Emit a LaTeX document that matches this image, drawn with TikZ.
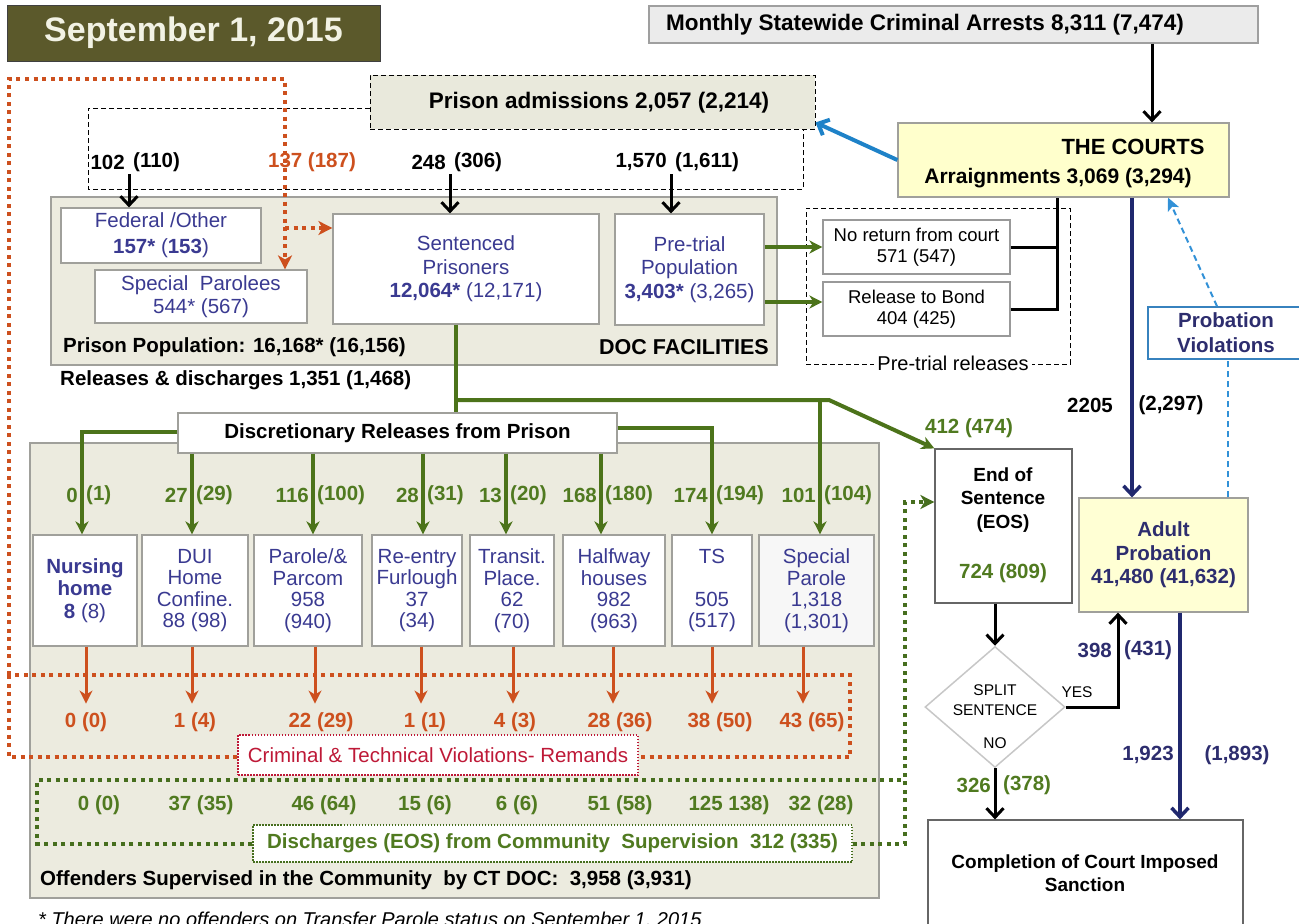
\documentclass[tikz,border=0pt]{standalone}
\usepackage{fontspec}
\setmainfont{Liberation Sans}
\usetikzlibrary{arrows.meta,shapes.geometric}
\definecolor{titlebg}{RGB}{91,89,43}
\definecolor{titlefg}{RGB}{242,242,228}
\definecolor{panel}{RGB}{236,235,223}
\definecolor{panelbd}{RGB}{160,160,155}
\definecolor{admfill}{RGB}{233,233,220}
\definecolor{arrfill}{RGB}{235,235,235}
\definecolor{courtfill}{RGB}{255,255,204}
\definecolor{probfill}{RGB}{255,255,212}
\definecolor{tblue}{RGB}{58,58,145}
\definecolor{tgreen}{RGB}{80,122,32}
\definecolor{lgreen}{RGB}{76,115,26}
\definecolor{dgreen}{RGB}{70,110,30}
\definecolor{torange}{RGB}{205,80,30}
\definecolor{crimson}{RGB}{190,25,55}
\definecolor{navyl}{RGB}{32,40,110}
\definecolor{navyt}{RGB}{45,45,110}
\definecolor{skyb}{RGB}{30,130,200}
\definecolor{dashb}{RGB}{50,145,215}
\definecolor{pvbd}{RGB}{55,130,190}
\newcommand\fsz[2]{\fontsize{#1pt}{#2pt}\selectfont}
\newcommand\splitlbl[6]{%
  \node[#6,anchor=east] (#1l) at (#2-4,#3) {#4};
  \node[#6,anchor=west] (#1r) at (#2+4,#3) {#5};}
\begin{document}
\begin{tikzpicture}[x=1pt,y=-1pt,
  >={Stealth[length=13pt,width=13pt,inset=4pt]},
  every node/.style={inner sep=0pt, align=center, font=\fsz{20.5}{23}\bfseries},
  box/.style={draw=panelbd, line width=1.2pt, fill=white, rectangle},
  panelbox/.style={draw=panelbd, line width=1.5pt, fill=panel, rectangle},
  framed/.style={draw=black, line width=1pt, dash pattern=on 5pt off 3pt},
  lbl/.style={text=tblue, font=\fsz{20.5}{21.5}\mdseries},
  vtip/.style={-{Straight Barb[length=9pt,width=17pt]}},
  blk/.style={line width=3pt, black, vtip},
  grn/.style={line width=4pt, lgreen},
  ora/.style={line width=3pt, torange, ->},
  odot/.style={torange, line width=4pt, dash pattern=on 4pt off 4.5pt},
  gdot/.style={dgreen, line width=4pt, dash pattern=on 4pt off 4.5pt},
  thindash/.style={black, line width=1pt, dash pattern=on 5pt off 3pt},
  navyln/.style={navyl, line width=3.5pt},
  gnum/.style={text=tgreen},
  onum/.style={text=torange},
  nnum/.style={text=navyt}]
\useasboundingbox (0,0) rectangle (1299,924);

% ---------- panels
\node[panelbox, minimum width=726pt, minimum height=168pt] (doc) at (414,281) {};
\node[panelbox, minimum width=849pt, minimum height=455pt] (com) at (454.5,670.5) {};

% ---------- title and top boxes
\node[fill=titlebg, draw=black!75, line width=1pt, minimum width=373pt, minimum height=56pt,
      text=titlefg, font=\fsz{34}{38}\bfseries] (title) at (193.5,33) {September 1, 2015};
\node[fill=arrfill, draw=gray!75, line width=1.2pt, minimum width=609pt, minimum height=37pt] (arr) at (953.5,24.5) {};
\node[font=\fsz{22.5}{25}\bfseries] (arrt) at (925,25) {Monthly Statewide Criminal Arrests 8,311 (7,474)};

\draw[thindash] (370,108) -- (88,108) -- (88,189) -- (803,189) -- (803,129);
\node[framed, fill=admfill, minimum width=445pt, minimum height=54pt] (pa) at (592.5,102) {};
\node[font=\fsz{22.5}{25}\bfseries] (pat) at (599,103) {Prison admissions 2,057 (2,214)};

\node[fill=courtfill, draw=panelbd, line width=1.2pt, minimum width=331pt, minimum height=74pt] (courts) at (1063.5,160) {};
\node[font=\fsz{22}{25}\bfseries] (courtst) at (1133,147) {THE COURTS};
\node[font=\fsz{21}{24}\bfseries] (arrg) at (1058,178) {Arraignments 3,069 (3,294)};

% ---------- DOC facilities
\node[box, lbl, font=\fsz{20.5}{26}\mdseries, minimum width=200pt, minimum height=55pt] (fed) at (161,235.5) {Federal /Other\\\textbf{157*} (\textbf{153})};
\node[box, lbl, font=\fsz{20.5}{23}\mdseries, minimum width=212pt, minimum height=53pt] (spar) at (201,296.5) {Special\ \ Parolees\\544* (567)};
\node[box, lbl, font=\fsz{20.5}{23.5}\mdseries, minimum width=266pt, minimum height=110pt] (sent) at (466,269) {Sentenced\\Prisoners\\\textbf{12,064*} (12,171)};
\node[box, lbl, font=\fsz{20.5}{23.5}\mdseries, minimum width=149pt, minimum height=111pt] (pt) at (689.5,269.5) {Pre-trial\\Population\\\textbf{3,403*} (3,265)};
\node[anchor=west] (ppop) at (63,347) {Prison Population: 16,168* (16,156)};
\node[anchor=east, font=\fsz{21.5}{24}\bfseries] (docf) at (769,347) {DOC FACILITIES};
\node[anchor=west] (rel) at (60,380) {Releases \& discharges 1,351 (1,468)};

% ---------- pre-trial releases
\node[framed, minimum width=264pt, minimum height=156pt] (prf) at (938,286) {};
\node[fill=white, inner xsep=3pt, font=\fsz{20}{22}\mdseries] (prl) at (953,363) {Pre-trial releases};
\node[box, draw=gray!80, font=\fsz{18.5}{21}\mdseries, minimum width=187pt, minimum height=54pt] (nr) at (916.5,247) {No return from court\\571 (547)};
\node[box, draw=gray!80, font=\fsz{18.5}{21}\mdseries, minimum width=187pt, minimum height=54pt] (rb) at (916.5,309) {Release to Bond\\404 (425)};

% ---------- right column
\node[draw=pvbd, line width=1.5pt, fill=white, minimum width=156pt, minimum height=52pt,
      text=navyt, font=\fsz{20.5}{25}\bfseries] (pv) at (1226,333) {Probation\\Violations};
\node[fill=probfill, draw=panelbd, line width=1.2pt, minimum width=169pt, minimum height=114pt,
      text=navyt, font=\fsz{20.5}{23.5}\bfseries] (ap) at (1163.5,555) {Adult\\Probation\\41,480 (41,632)};
\node[box, draw=black!60, minimum width=137pt, minimum height=154pt] (eos) at (1003.5,526) {};
\node[font=\fsz{19}{23.5}\bfseries] (eost) at (1003,500) {End of\\Sentence\\(EOS)};
\node[gnum] (eosn) at (1003,573) {724 (809)};
\node[diamond, draw=black!22, line width=1.5pt, fill=white, minimum width=140pt, minimum height=121pt] (dm) at (995,707) {};
\node[font=\fsz{15.5}{18}\mdseries] (dm1) at (995,690) {SPLIT};
\node[font=\fsz{15.5}{18}\mdseries] (dm2) at (995,710) {SENTENCE};
\node[font=\fsz{15.5}{18}\mdseries] (dm3) at (995,743) {NO};
\node[font=\fsz{15.5}{18}\mdseries] (yes) at (1077,692) {YES};
\node[box, draw=black!60, minimum width=315pt, minimum height=115pt] (comp) at (1085.5,877.5) {};
\node[font=\fsz{19}{23}\bfseries] (compt) at (1085,873) {Completion of Court Imposed\\Sanction};

% ---------- community
\node[box, minimum width=439pt, minimum height=40pt] (disc) at (397.5,433) {Discretionary Releases from Prison};
\node[box, lbl, font=\fsz{20.5}{22.5}\bfseries, minimum width=104pt, minimum height=111pt] (nh) at (85,590.5) {Nursing\\home\\8 {\mdseries(8)}};
\node[box, lbl, minimum width=106pt, minimum height=111pt] (dui) at (195,590.5) {DUI\\Home\\Confine.\\88 (98)};
\node[box, lbl, minimum width=108pt, minimum height=111pt] (par) at (308,590.5) {Parole/\&\\Parcom\\958\\(940)};
\node[box, lbl, minimum width=90pt, minimum height=111pt] (re) at (417,590.5) {Re-entry\\Furlough\\37\\(34)};
\node[box, lbl, minimum width=84pt, minimum height=111pt] (tr) at (512,590.5) {Transit.\\Place.\\62\\(70)};
\node[box, lbl, minimum width=102pt, minimum height=111pt] (hw) at (614,590.5) {Halfway\\houses\\982\\(963)};
\node[box, lbl, minimum width=80pt, minimum height=111pt] (ts) at (712,590.5) {TS\\\mbox{}\\505\\(517)};
\node[box, lbl, fill=black!3, minimum width=115pt, minimum height=111pt] (spp) at (816.5,590.5) {Special\\Parole\\1,318\\(1,301)};

% ---------- dotted loops
\draw[odot] (9,675) rectangle (850,757);
\coordinate (oc) at (285,79);
\draw[odot, -{Stealth[length=14pt,width=14pt,inset=4pt]}] (9,675) -- (9,79) -- (oc) -- (oc |- spar.north);
\coordinate (ob) at (285,228);
\draw[odot, -{Stealth[length=14pt,width=14pt,inset=4pt]}] (ob) -- (sent.west |- ob);
\node[fill=white, draw=crimson, line width=1.5pt, dash pattern=on 1.5pt off 1.5pt, text=crimson,
      font=\fsz{20.5}{23}\mdseries, minimum width=400pt, minimum height=40pt] (crim) at (438,755) {Criminal \& Technical Violations- Remands};
\node[fill=white, draw=dgreen, line width=1.5pt, dash pattern=on 1.5pt off 1.5pt, text=tgreen,
      minimum width=599pt, minimum height=37pt] (dis) at (552.5,843.5) {Discharges (EOS) from Community\ \ Supervision\ \ 312 (335)};
\draw[gdot] (dis.west) -- (37,843.5) -- (37,780) -- (905,780);
\coordinate (gv) at (905,502);
\draw[gdot, -{Stealth[length=14pt,width=14pt,inset=4pt]}] (dis.east) -- (dis.east -| gv) -- (gv) -- (eos.west |- gv);

% ---------- admissions arrows
\coordinate (a102) at (129,174);
\coordinate (a248) at (450,174);
\coordinate (a1570) at (671,174);
\draw[blk] (a102) -- (a102 |- fed.north);
\draw[blk] (a248) -- (a248 |- sent.north);
\draw[blk] (a1570) -- (a1570 |- pt.north);
\splitlbl{c102}{129}{162}{102}{(110)}{}
\node[onum] (c137) at (312,162) {137 (187)};
\splitlbl{c248}{450}{162}{248}{(306)}{}
\splitlbl{c1570}{671}{162}{1,570}{(1,611)}{}

% ---------- courts connectors
\coordinate (ax) at (1152,0);
\draw[blk] (arr.south -| ax) -- (courts.north -| ax);
\draw[skyb, line width=4pt, vtip] (courts.west) -- ([yshift=7pt]pa.south east);
\coordinate (nx) at (1132,0);
\draw[navyln, vtip] (courts.south -| nx) -- (ap.north -| nx);
\node (n2205) at (1090,405) {2205};
\node (n2297) at (1171,405) {(2,297)};
\coordinate (bx) at (1057,0);
\draw[line width=3pt] (nr.east) -- (nr.east -| bx);
\draw[line width=3pt] (rb.east) -- (rb.east -| bx) -- (courts.south -| bx);
\draw[grn, ->] (pt.east |- nr.west) -- (nr.west);
\draw[grn, ->] ([yshift=7pt]rb.west -| pt.east) -- ([yshift=7pt]rb.west);
\coordinate (dbx) at (1228,0);
\coordinate (dbt) at (1217,0);
\coordinate (dbc) at (1168,0);
\draw[dashb, line width=2pt, dash pattern=on 6pt off 4pt] (ap.north -| dbx) -- (pv.south -| dbx);
\draw[dashb, line width=2pt, dash pattern=on 6pt off 4pt, -{Stealth[length=13pt,width=12pt,inset=3pt]}] (pv.north -| dbt) -- (courts.south -| dbc);

% ---------- sentenced tree
\coordinate (gj) at (456,400);
\coordinate (gk) at (829,400);
\coordinate (gsp) at (820,400);
\draw[grn] (sent.south -| gj) -- (disc.north -| gj);
\draw[grn, ->] (gj) -- (gk) -- (eos.north west);
\draw[grn, ->] (gsp) -- (gsp |- spp.north);
\node[gnum] (n412) at (969,428) {412 (474)};
\coordinate (dl) at (82,432);
\coordinate (dr) at (712,428);
\draw[grn, ->] (disc.west |- dl) -- (dl) -- (dl |- nh.north);
\draw[grn, ->] (disc.east |- dr) -- (dr) -- (dr |- ts.north);
\foreach \x in {192,313,423,506,601}
  \draw[grn, ->] (disc.south -| \x,0) -- (\x,0 |- nh.north);
\splitlbl{g1}{82}{495}{0}{(1)}{gnum}
\splitlbl{g2}{192}{495}{27}{(29)}{gnum}
\splitlbl{g3}{313}{495}{116}{(100)}{gnum}
\splitlbl{g4}{423}{495}{28}{(31)}{gnum}
\splitlbl{g5}{506}{495}{13}{(20)}{gnum}
\splitlbl{g6}{601}{495}{168}{(180)}{gnum}
\splitlbl{g7}{712}{495}{174}{(194)}{gnum}
\splitlbl{g8}{820}{495}{101}{(104)}{gnum}

% ---------- remands
\foreach \x/\b in {86/nh,192/dui,315/par,421/re,513/tr,613/hw,712/ts,803/spp}
  \draw[ora] (\b.south -| \x,0) -- ++(0,57);
\node[onum] (o1) at (86,722) {0 (0)};
\node[onum] (o2) at (195,722) {1 (4)};
\node[onum] (o3) at (321,722) {22 (29)};
\node[onum] (o4) at (425,722) {1 (1)};
\node[onum] (o5) at (515,722) {4 (3)};
\node[onum] (o6) at (620,722) {28 (36)};
\node[onum] (o7) at (720,722) {38 (50)};
\node[onum] (o8) at (812,722) {43 (65)};

% ---------- discharges
\node[gnum] (d1) at (99,805) {0 (0)};
\node[gnum] (d2) at (201,805) {37 (35)};
\node[gnum] (d3) at (324,805) {46 (64)};
\node[gnum] (d4) at (425,805) {15 (6)};
\node[gnum] (d5) at (517,805) {6 (6)};
\node[gnum] (d6) at (620,805) {51 (58)};
\node[gnum] (d7) at (729,805) {125 138)};
\node[gnum] (d8) at (821,805) {32 (28)};
\node[anchor=west] (offs) at (40,880) {Offenders Supervised in the Community\ \ by CT DOC:\ \ 3,958 (3,931)};
\node[anchor=north west, font=\fsz{20}{22}\mdseries\itshape] (foot) at (38,912) {* There were no offenders on Transfer Parole status on September 1, 2015};

% ---------- EOS / split / probation
\draw[blk] (eos.south -| dm.north) -- (dm.north);
\coordinate (yx) at (1118,0);
\draw[blk] (dm.east) -- (dm.east -| yx) -- (ap.south -| yx);
\node[nnum, anchor=east] (n398) at (1112,650) {398};
\node[nnum, anchor=west] (n431) at (1124,650) {(431)};
\draw[blk] (dm.south) -- (comp.north -| dm.south);
\node[gnum, anchor=east] (n326) at (991,785) {326};
\node[gnum, anchor=west] (n378) at (1003,785) {(378)};
\coordinate (px) at (1180,0);
\draw[navyln, vtip] (ap.south -| px) -- (comp.north -| px);
\node[nnum] (n1923) at (1148,755) {1,923};
\node[nnum] (n1893) at (1237,755) {(1,893)};
\end{tikzpicture}
\end{document}
